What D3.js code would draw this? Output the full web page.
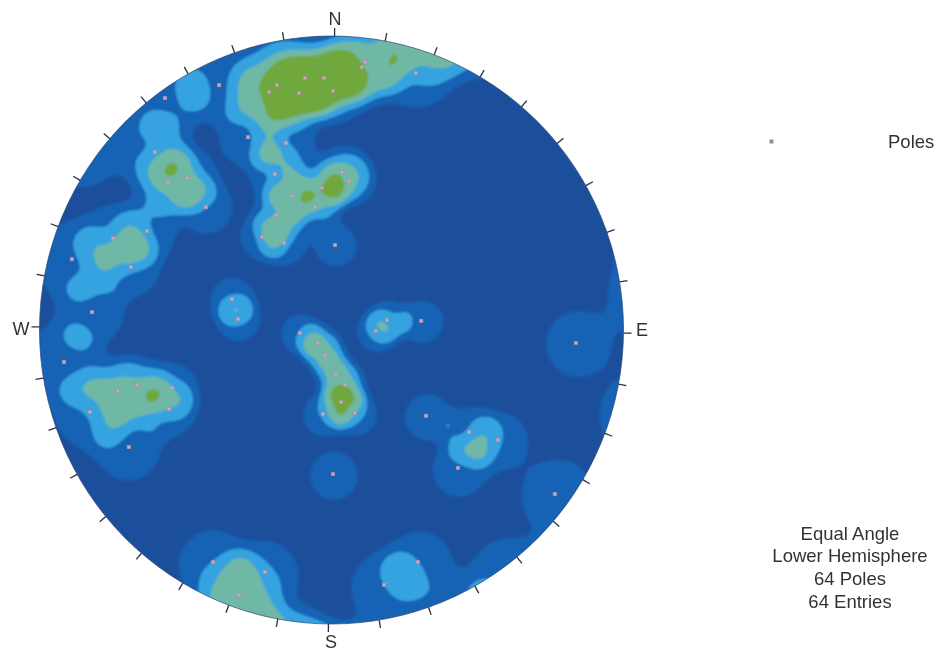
<!DOCTYPE html>
<html>
<head>
<meta charset="utf-8">
<script src="https://cdn.jsdelivr.net/npm/d3@7"></script>
<style>
  html, body { margin: 0; background: #fff; }
  text { font-family: "Liberation Sans", Arial, sans-serif; fill: #333; }
</style>
</head>
<body>
<script>
const poleEast = [-38.5, -57.0, -18.7, -21.4, -11.1, -2.6, 0.5, -28.6, -15.6, -60.5, -56.0, -49.5, -43.0, -19.4, -13.5, -3.3,
  3.6, 6.0, -5.7, -19.0, -23.8, -16.3, 1.2, -74.8, -63.2, -88.9, -68.7, -82.0, -34.1, 11.5, 10.4, 28.9,
  19.0, 15.2, 30.7, -10.8, -91.6, -2.2, 1.5, 3.3, -2.9, 8.0, -73.1, -66.6, -54.6, -55.7, -82.7, -69.4,
  0.5, -40.6, -22.8, -31.7, 83.7, 32.4, 47.1, 57.0, 43.3, 76.5, 29.6, 18.0, -32.0, 4.6, -4.6, -9.1];
const poleNorth = [83.3, 78.9, 83.3, 80.9, 80.6, 85.7, 81.3, 65.6, 63.6, 60.5, 50.3, 51.7, 41.8, 53.0, 45.6, 48.3,
  53.7, 50.7, 41.8, 39.1, 31.6, 29.6, 28.9, 31.3, 33.7, 24.1, 21.4, 6.1, 10.5, 91.1, 89.4, 87.4,
  3.4, -0.3, 3.1, -1.0, -10.9, -8.5, -15.0, -24.5, -28.6, -28.2, -20.7, -18.7, -19.7, -26.9, -27.9, -39.8,
  -49.0, -78.9, -82.3, -90.1, -4.4, -29.2, -34.7, -37.4, -46.9, -55.8, -78.9, -86.7, 3.7, -18.7, -4.4, 85.7];

const compass = ["N", "E", "S", "W"];
const notes = ["Equal Angle", "Lower Hemisphere", "64 Poles", "64 Entries"];
const tickAzimuth = d3.range(0, 360, 10);
const contourLevels = [0.58, 1.27, 1.93, 2.68];
const contourColors = ["#1662b4", "#35a3e0", "#6fb8a6", "#6fa83c"];

const w = 936, h = 651;
const cx = 331.5, cy = 330, rx = 292, ry = 294;

const x = d3.scaleLinear().domain([-100, 100]).range([cx - rx, cx + rx]);
const y = d3.scaleLinear().domain([-100, 100]).range([cy + ry, cy - ry]);

// unit vector of a net position (equal angle, lower hemisphere)
const toSphere = (e, n) => {
  const u = e / 100, v = n / 100, q = 1 + u * u + v * v;
  return [2 * u / q, 2 * v / q, (2 - q) / q];
};
const poles = poleEast.map((e, i) => ({ e: e, n: poleNorth[i], vec: toSphere(e, poleNorth[i]) }));

// smoothing kernel on the sphere, poles count on both ends of their axis
const kernelWidth = 8.7, toDeg = 180 / Math.PI;
const density = (e, n) => {
  const p = toSphere(e, n);
  let sum = 0;
  poles.forEach(d => {
    const dot = Math.abs(p[0] * d.vec[0] + p[1] * d.vec[1] + p[2] * d.vec[2]);
    const a = Math.acos(Math.min(1, dot)) * toDeg / kernelWidth;
    sum += Math.exp(-a * a * a * a);
  });
  return sum;
};

const step = 2;
const x0 = cx - rx - 10, y0 = cy - ry - 10;
const nx = Math.ceil((2 * rx + 20) / step), ny = Math.ceil((2 * ry + 20) / step);
const grid = new Float64Array(nx * ny);
for (let j = 0; j < ny; j++) {
  for (let i = 0; i < nx; i++) {
    grid[j * nx + i] = density(x.invert(x0 + i * step), y.invert(y0 + j * step));
  }
}

const svg = d3.select("body").append("svg")
  .attr("width", w)
  .attr("height", h)
  .style("display", "block");

const defs = svg.append("defs");
defs.append("clipPath").attr("id", "net")
  .append("ellipse").attr("cx", cx).attr("cy", cy).attr("rx", rx).attr("ry", ry);
defs.append("filter").attr("id", "scan")
  .append("feGaussianBlur").attr("stdDeviation", 0.9);
defs.append("filter").attr("id", "soft")
  .append("feGaussianBlur").attr("stdDeviation", 0.5);

const color = d3.scaleThreshold().domain(contourLevels.slice(1)).range(contourColors);
const contours = d3.contours().size([nx, ny]).thresholds(contourLevels)(grid);
const path = d3.geoPath(d3.geoIdentity().scale(step).translate([x0, y0]));

const net = svg.append("g").attr("clip-path", "url(#net)");
const bands = net.append("g").attr("filter", "url(#scan)");
bands.append("ellipse")
  .attr("cx", cx).attr("cy", cy).attr("rx", rx + 2).attr("ry", ry + 2)
  .attr("fill", "#1f4f9b");
bands.selectAll("path")
  .data(contours)
  .enter()
  .append("path")
  .attr("d", path)
  .attr("fill", d => color(d.value));

svg.append("ellipse")
  .attr("cx", cx).attr("cy", cy).attr("rx", rx).attr("ry", ry)
  .attr("fill", "none")
  .attr("stroke", "#26406e")
  .attr("stroke-width", 0.7);

// azimuth ticks, the scan sits a little clockwise
const turn = 0.6;
svg.selectAll(".tick")
  .data(tickAzimuth)
  .enter()
  .append("line")
  .attr("class", "tick")
  .attr("x1", d => cx + rx * Math.sin((d + turn) / toDeg))
  .attr("y1", d => cy - ry * Math.cos((d + turn) / toDeg))
  .attr("x2", d => cx + (rx + 8) * Math.sin((d + turn) / toDeg))
  .attr("y2", d => cy - (ry + 8) * Math.cos((d + turn) / toDeg))
  .attr("stroke", "#2a2f45")
  .attr("stroke-width", 1.3);

const labelX = [335, 642, 331, 21];
const labelY = [20, 331, 643, 330];
const labels = svg.append("g").attr("filter", "url(#soft)");
labels.selectAll("text")
  .data(compass)
  .enter()
  .append("text")
  .attr("x", (d, i) => labelX[i])
  .attr("y", (d, i) => labelY[i])
  .attr("text-anchor", "middle")
  .attr("dominant-baseline", "middle")
  .attr("font-size", 18)
  .text(d => d);

const marks = svg.append("g").attr("filter", "url(#soft)");
marks.selectAll("rect")
  .data(poles)
  .enter()
  .append("rect")
  .attr("x", d => x(d.e) - 1.75)
  .attr("y", d => y(d.n) - 1.75)
  .attr("width", 3.5)
  .attr("height", 3.5)
  .attr("fill", "#cfa6c0")
  .attr("stroke", "#a98a9a")
  .attr("stroke-width", 0.5);

const legend = svg.append("g").attr("filter", "url(#soft)");
legend.append("rect")
  .attr("x", 769.5).attr("y", 139.5).attr("width", 4).attr("height", 4)
  .attr("fill", "#8d9298");
legend.append("text")
  .attr("x", 888).attr("y", 147.5)
  .attr("font-size", 18.5)
  .text("Poles");
legend.selectAll(".note")
  .data(notes)
  .enter()
  .append("text")
  .attr("class", "note")
  .attr("x", 850)
  .attr("y", (d, i) => 539.5 + i * 22.7)
  .attr("text-anchor", "middle")
  .attr("font-size", 18.5)
  .text(d => d);
</script>
</body>
</html>
